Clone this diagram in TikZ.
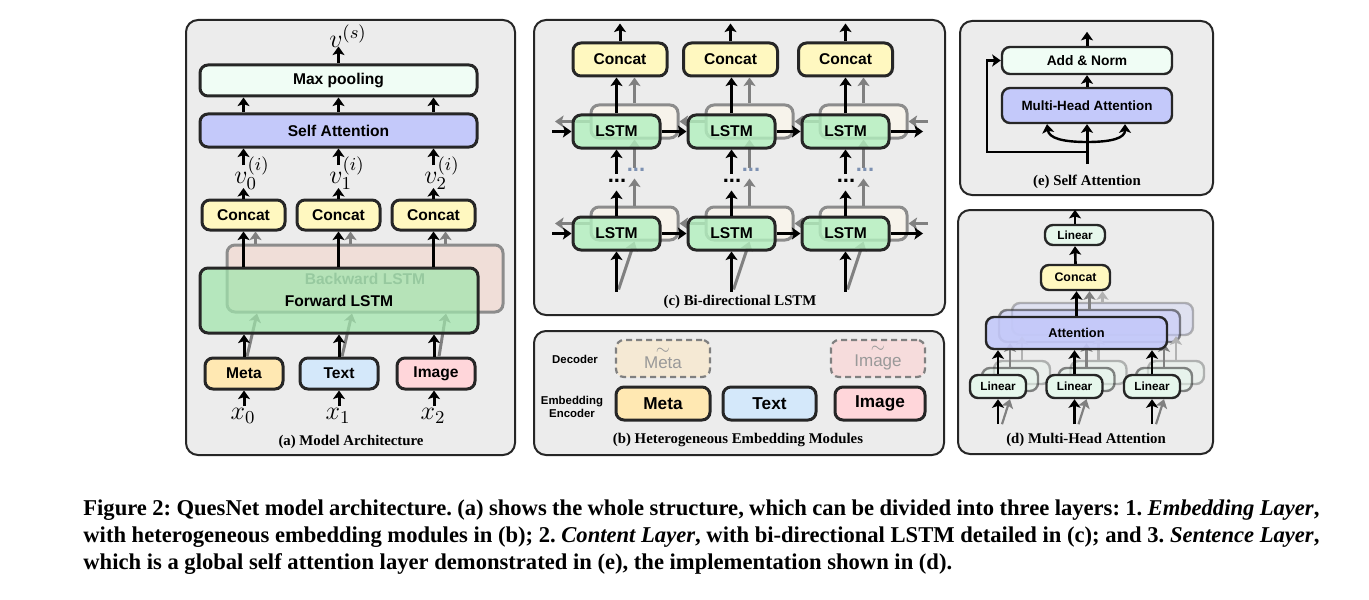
\documentclass[tikz,border=0pt]{standalone}
\usepackage{fix-cm}
\usepackage{fontspec}
\setmainfont{Liberation Serif}
\setsansfont{Liberation Sans}
\usetikzlibrary{arrows.meta}

\definecolor{panelgray}{RGB}{236,236,236}
\definecolor{mintwhite}{RGB}{240,253,245}
\definecolor{attblue}{RGB}{196,201,250}
\definecolor{concaty}{RGB}{255,248,192}
\definecolor{fwgreen}{RGB}{160,230,172}
\definecolor{lstmgreen}{RGB}{178,240,190}
\definecolor{bwpink}{RGB}{240,222,216}
\definecolor{bwcream}{RGB}{247,243,235}
\definecolor{metaor}{RGB}{255,232,178}
\definecolor{textblue}{RGB}{212,232,250}
\definecolor{imgpink}{RGB}{255,214,218}
\definecolor{metadec}{RGB}{245,233,212}
\definecolor{imgdec}{RGB}{246,220,220}
\definecolor{lingreen}{RGB}{230,247,236}
\definecolor{dotblue}{RGB}{125,145,178}

\tikzset{
  panel/.style={draw=black!85, line width=1pt, rounded corners=6pt, fill=panelgray},
  box/.style={draw=black!85, line width=1.5pt, rounded corners=4pt, inner sep=0pt,
    font=\sffamily\bfseries\fontsize{7.8}{8}\selectfont},
  ghost/.style={box, draw=black!45},
  arr/.style={-{Stealth[length=4.3pt,width=6pt,inset=1pt]}, line width=1.5pt},
  garr/.style={arr, color=black!50},
  mathlbl/.style={inner sep=1pt, font=\fontsize{13}{13}\selectfont},
  paneltitle/.style={inner sep=1pt, font=\bfseries\fontsize{7.4}{8}\selectfont},
  sidelbl/.style={inner sep=0pt, align=center, font=\sffamily\bfseries\fontsize{5.7}{6.6}\selectfont},
  capline/.style={anchor=base west, inner sep=0pt, font=\bfseries\fontsize{11.3}{12}\selectfont\frenchspacing},
  dots/.style={inner sep=0pt, font=\sffamily\bfseries\fontsize{11}{11}\selectfont}
}

\begin{document}
\begin{tikzpicture}[x=0.5pt, y=-0.5pt]
  \useasboundingbox (0,0) rectangle (1369,599);

  % ---------- (a) Model Architecture ----------
  \draw[panel] (186,20) rectangle (515,455);
  \node[box, fill=mintwhite, minimum width=138.5pt, minimum height=15.5pt] (maxp) at (338.5,80.5) {Max pooling};
  \node[box, fill=attblue, minimum width=138.5pt, minimum height=16.5pt] (selfatt) at (338.5,130.5) {Self Attention};
  \node[mathlbl] (vs) at (348,36) {$v^{(s)}$};
  \draw[arr] (maxp.north) -- ([yshift=8.5pt]maxp.north);
  \draw[arr] (selfatt.north -| 243.5,0) -- (maxp.south -| 243.5,0);
  \draw[arr] (selfatt.north) -- (maxp.south);
  \draw[arr] (selfatt.north -| 433.5,0) -- (maxp.south -| 433.5,0);

  \node[box, fill=concaty, minimum width=41.5pt, minimum height=15pt] (ac0) at (243.5,215) {Concat};
  \node[box, fill=concaty, minimum width=41.5pt, minimum height=15pt] (ac1) at (338.5,215) {Concat};
  \node[box, fill=concaty, minimum width=41.5pt, minimum height=15pt] (ac2) at (433.5,215) {Concat};

  % v labels between Concat and Self Attention
  \node[mathlbl] (av0) at (252,173) {$v_0^{(i)}$};
  \node[mathlbl] (av1) at (347,173) {$v_1^{(i)}$};
  \node[mathlbl] (av2) at (442,173) {$v_2^{(i)}$};
  \coordinate (av0b) at (243.5,188); \coordinate (av0t) at (243.5,165);
  \coordinate (av1b) at (338.5,188); \coordinate (av1t) at (338.5,165);
  \coordinate (av2b) at (433.5,188); \coordinate (av2t) at (433.5,165);
  \draw[arr] (ac0.north) -- (av0b);
  \draw[arr] (ac1.north) -- (av1b);
  \draw[arr] (ac2.north) -- (av2b);
  \draw[arr] (av0t) -- (selfatt.south -| av0t);
  \draw[arr] (av1t) -- (selfatt.south -| av1t);
  \draw[arr] (av2t) -- (selfatt.south -| av2t);

  % Backward / Forward LSTM
  \node[ghost, fill=bwpink, text=black!50, minimum width=138pt, minimum height=33.5pt] (abw) at (365,278.5) {Backward LSTM};
  \node[box, fill=metaor, minimum width=39pt, minimum height=15.5pt] (am) at (244,373.5) {Meta};
  \node[box, fill=textblue, minimum width=39pt, minimum height=15.5pt] (at) at (339,373.5) {Text};
  \node[box, fill=imgpink, minimum width=39pt, minimum height=15.5pt] (ai) at (436,373.5) {Image};
  \draw[garr] ([xshift=6pt]ac0.south |- abw.north) -- ([xshift=6pt]ac0.south);
  \draw[garr] ([xshift=6pt]ac1.south |- abw.north) -- ([xshift=6pt]ac1.south);
  \draw[garr] ([xshift=6pt]ac2.south |- abw.north) -- ([xshift=6pt]ac2.south);
  \draw[garr] ([xshift=1.5pt]am.north) -- ([xshift=6.5pt]am.north |- abw.south);
  \draw[garr] ([xshift=1.5pt]at.north) -- ([xshift=6.5pt]at.north |- abw.south);
  \draw[garr] ([xshift=1.5pt]ai.north) -- ([xshift=5pt]ai.north |- abw.south);
  \node[box, fill=fwgreen, fill opacity=0.72, text opacity=1, minimum width=139pt, minimum height=32.5pt] (afw) at (339,300.5) {Forward LSTM};
  \draw[arr] (ac0.south |- afw.north) -- (ac0.south);
  \draw[arr] (ac1.south |- afw.north) -- (ac1.south);
  \draw[arr] (ac2.south |- afw.north) -- (ac2.south);
  \draw[arr] (am.north) -- (am.north |- afw.south);
  \draw[arr] (at.north) -- (at.north |- afw.south);
  \draw[arr] (ai.north -| 434,0) -- (afw.south -| 434,0);

  % inputs
  \node[mathlbl, anchor=north] (ax0) at (243,406) {$x_0$};
  \node[mathlbl, anchor=north] (ax1) at (338,406) {$x_1$};
  \node[mathlbl, anchor=north] (ax2) at (433,406) {$x_2$};
  \draw[arr] (am.south |- ax0.north) -- (am.south);
  \draw[arr] (at.south |- ax1.north) -- (at.south);
  \draw[arr] (434,0 |- ax2.north) -- (ai.south -| 434,0);
  \node[paneltitle] (capa) at (351,442) {(a) Model Architecture};

  % ---------- (c) Bi-directional LSTM ----------
  \draw[panel] (534,20) rectangle (945,315);
  % backward cells
  \node[ghost, fill=bwcream, minimum width=43.5pt, minimum height=16.5pt] (bw11) at (634.5,121.5) {};
  \node[ghost, fill=bwcream, minimum width=43.5pt, minimum height=16.5pt] (bw12) at (749.5,121.5) {};
  \node[ghost, fill=bwcream, minimum width=43.5pt, minimum height=16.5pt] (bw13) at (863.5,121.5) {};
  \node[ghost, fill=bwcream, minimum width=43.5pt, minimum height=16.5pt] (bw21) at (634.5,223.5) {};
  \node[ghost, fill=bwcream, minimum width=43.5pt, minimum height=16.5pt] (bw22) at (749.5,223.5) {};
  \node[ghost, fill=bwcream, minimum width=43.5pt, minimum height=16.5pt] (bw23) at (863.5,223.5) {};
  \node[box, fill=concaty, minimum width=47pt, minimum height=16.5pt] (cat1) at (620,59.5) {Concat};
  \node[box, fill=concaty, minimum width=47pt, minimum height=16.5pt] (cat2) at (730.5,59.5) {Concat};
  \node[box, fill=concaty, minimum width=47pt, minimum height=16.5pt] (cat3) at (845.5,59.5) {Concat};
  \coordinate (cbr1) at (928,121.5); \coordinate (cbl1) at (555,121.5);
  \coordinate (cbr2) at (928,223.5); \coordinate (cbl2) at (555,223.5);
  \draw[garr] (cbr1) -- (bw13.east);
  \draw[garr] (bw13.west) -- (bw12.east);
  \draw[garr] (bw12.west) -- (bw11.east);
  \draw[garr] (bw11.west) -- (cbl1);
  \draw[garr] (cbr2) -- (bw23.east);
  \draw[garr] (bw23.west) -- (bw22.east);
  \draw[garr] (bw22.west) -- (bw21.east);
  \draw[garr] (bw21.west) -- (cbl2);
  \draw[garr] (bw11.north) -- (bw11.north |- cat1.south);
  \draw[garr] (bw12.north) -- (bw12.north |- cat2.south);
  \draw[garr] (bw13.north) -- (bw13.north |- cat3.south);
  \draw[garr] ([yshift=-14pt]bw11.south) -- (bw11.south);
  \draw[garr] ([yshift=-14pt]bw12.south) -- (bw12.south);
  \draw[garr] ([yshift=-14pt]bw13.south) -- (bw13.south);
  \draw[garr] (bw21.north) -- ([yshift=13.5pt]bw21.north);
  \draw[garr] (bw22.north) -- ([yshift=13.5pt]bw22.north);
  \draw[garr] (bw23.north) -- ([yshift=13.5pt]bw23.north);
  \draw[garr] ([xshift=-8pt,yshift=-24pt]bw21.south) -- (bw21.south);
  \draw[garr] ([xshift=-8pt,yshift=-24pt]bw22.south) -- (bw22.south);
  \draw[garr] ([xshift=-8pt,yshift=-24pt]bw23.south) -- (bw23.south);
  % forward cells
  \node[box, fill=lstmgreen, fill opacity=0.8, text opacity=1, minimum width=43.5pt, minimum height=16.5pt] (fw11) at (616.5,131.5) {LSTM};
  \node[box, fill=lstmgreen, fill opacity=0.8, text opacity=1, minimum width=43.5pt, minimum height=16.5pt] (fw12) at (731.5,131.5) {LSTM};
  \node[box, fill=lstmgreen, fill opacity=0.8, text opacity=1, minimum width=43.5pt, minimum height=16.5pt] (fw13) at (845.5,131.5) {LSTM};
  \node[box, fill=lstmgreen, fill opacity=0.8, text opacity=1, minimum width=43.5pt, minimum height=16.5pt] (fw21) at (616.5,233.5) {LSTM};
  \node[box, fill=lstmgreen, fill opacity=0.8, text opacity=1, minimum width=43.5pt, minimum height=16.5pt] (fw22) at (731.5,233.5) {LSTM};
  \node[box, fill=lstmgreen, fill opacity=0.8, text opacity=1, minimum width=43.5pt, minimum height=16.5pt] (fw23) at (845.5,233.5) {LSTM};
  \coordinate (cfl1) at (552,131.5); \coordinate (cfr1) at (923,131.5);
  \coordinate (cfl2) at (552,233.5); \coordinate (cfr2) at (923,233.5);
  \draw[arr] (cfl1) -- (fw11.west);
  \draw[arr] (fw11.east) -- (fw12.west);
  \draw[arr] (fw12.east) -- (fw13.west);
  \draw[arr] (fw13.east) -- (cfr1);
  \draw[arr] (cfl2) -- (fw21.west);
  \draw[arr] (fw21.east) -- (fw22.west);
  \draw[arr] (fw22.east) -- (fw23.west);
  \draw[arr] (fw23.east) -- (cfr2);
  \draw[arr] (fw11.north) -- (fw11.north |- cat1.south);
  \draw[arr] (fw12.north) -- (fw12.north |- cat2.south);
  \draw[arr] (fw13.north) -- (fw13.north |- cat3.south);
  \draw[arr] (cat1.north) -- ([yshift=9pt]cat1.north);
  \draw[arr] (cat2.north) -- ([yshift=9pt]cat2.north);
  \draw[arr] (cat3.north) -- ([yshift=9pt]cat3.north);
  \draw[arr] ([yshift=-12pt]fw11.south) -- (fw11.south);
  \draw[arr] ([yshift=-12pt]fw12.south) -- (fw12.south);
  \draw[arr] ([yshift=-12pt]fw13.south) -- (fw13.south);
  \draw[arr] (fw21.north) -- ([yshift=12.5pt]fw21.north);
  \draw[arr] (fw22.north) -- ([yshift=12.5pt]fw22.north);
  \draw[arr] (fw23.north) -- ([yshift=12.5pt]fw23.north);
  \draw[arr] ([yshift=-20pt]fw21.south) -- (fw21.south);
  \draw[arr] ([yshift=-20pt]fw22.south) -- (fw22.south);
  \draw[arr] ([yshift=-20pt]fw23.south) -- (fw23.south);
  \node[dots] (cd1) at (617,181) {...};
  \node[dots] (cd2) at (732,181) {...};
  \node[dots] (cd3) at (846,181) {...};
  \node[dots, text=dotblue] (cg1) at (636,170) {...};
  \node[dots, text=dotblue] (cg2) at (751,170) {...};
  \node[dots, text=dotblue] (cg3) at (865,170) {...};
  \node[paneltitle] (capc) at (740,302) {(c) Bi-directional LSTM};

  % ---------- (b) Heterogeneous Embedding Modules ----------
  \draw[panel] (534,331) rectangle (944,455);
  \node[sidelbl] (bdec) at (575,359) {Decoder};
  \node[sidelbl] (benc) at (572,407) {Embedding\\Encoder};
  \node[box, dash pattern=on 3pt off 2pt, line width=1.1pt, draw=black!50, fill=metadec, text=black!40, align=center,
    font=\sffamily\fontsize{8.5}{7}\selectfont, minimum width=47pt, minimum height=18.5pt] (bdmeta) at (663,358.5) {$\sim$\\Meta};
  \node[box, dash pattern=on 3pt off 2pt, line width=1.1pt, draw=black!50, fill=imgdec, text=black!40, align=center,
    font=\sffamily\fontsize{8.5}{7}\selectfont, minimum width=47pt, minimum height=18.5pt] (bdimg) at (878,358.5) {$\sim$\\Image};
  \node[box, fill=metaor, font=\sffamily\bfseries\fontsize{8.6}{9}\selectfont, minimum width=47pt, minimum height=16.5pt] (bmeta) at (663,403.5) {Meta};
  \node[box, fill=textblue, font=\sffamily\bfseries\fontsize{8.6}{9}\selectfont, minimum width=46.5pt, minimum height=16.5pt] (btext) at (769.5,403.5) {Text};
  \node[box, fill=imgpink, font=\sffamily\bfseries\fontsize{8.6}{9}\selectfont, minimum width=45pt, minimum height=16.5pt] (bimg) at (880,403.5) {Image};
  \node[paneltitle] (capb) at (738,440) {(b) Heterogeneous Embedding Modules};

  % ---------- (e) Self Attention ----------
  \draw[panel] (960,21) rectangle (1213,195);
  \node[box, line width=1.2pt, fill=mintwhite, font=\sffamily\bfseries\fontsize{6.9}{7}\selectfont, minimum width=85pt, minimum height=13.5pt] (addn) at (1087,60.5) {Add \& Norm};
  \node[box, line width=1.2pt, fill=attblue, font=\sffamily\bfseries\fontsize{6.7}{7}\selectfont, minimum width=85pt, minimum height=17.5pt] (mha) at (1087,105.5) {Multi-Head Attention};
  \coordinate (ein) at (1087,164);
  \coordinate (esplit) at (1087,152);
  \coordinate (ecurve) at (1087,142);
  \draw[arr] (mha.north) -- (addn.south);
  \draw[arr] (addn.north) -- ([yshift=7pt]addn.north);
  \draw[arr] (ein) -- (mha.south);
  \draw[arr, line width=1.2pt] (ecurve) .. controls (1062,142) and (1049,138) .. ([xshift=-20pt]mha.south);
  \draw[arr, line width=1.2pt] (ecurve) .. controls (1112,142) and (1125,138) .. ([xshift=19pt]mha.south);
  \draw[arr, line width=1.3pt] (esplit) -| ([xshift=-7pt]addn.west) -- (addn.west);
  \node[paneltitle] (cape) at (1087,182) {(e) Self Attention};

  % ---------- (d) Multi-Head Attention ----------
  \draw[panel] (958,210) rectangle (1213,454);
  \begin{scope}[opacity=0.3]
    \node[box, line width=1.2pt, fill=attblue, minimum width=90.5pt, minimum height=16pt] (datt3) at (1102.5,319) {};
    \node[box, line width=1.2pt, fill=lingreen, minimum width=28pt, minimum height=11.5pt] (dl1c) at (1022,372.5) {};
    \node[box, line width=1.2pt, fill=lingreen, minimum width=28pt, minimum height=11.5pt] (dl2c) at (1098.5,372.5) {};
    \node[box, line width=1.2pt, fill=lingreen, minimum width=28pt, minimum height=11.5pt] (dl3c) at (1176,372.5) {};
  \end{scope}
  \begin{scope}[opacity=0.55]
    \node[box, line width=1.2pt, fill=attblue, minimum width=90.5pt, minimum height=16pt] (datt2) at (1089.5,326) {};
    \node[box, line width=1.2pt, fill=lingreen, minimum width=28pt, minimum height=11.5pt] (dl1b) at (1010,379.5) {};
    \node[box, line width=1.2pt, fill=lingreen, minimum width=28pt, minimum height=11.5pt] (dl2b) at (1086.5,379.5) {};
    \node[box, line width=1.2pt, fill=lingreen, minimum width=28pt, minimum height=11.5pt] (dl3b) at (1164,379.5) {};
  \end{scope}
  \node[box, line width=1.2pt, fill=concaty, font=\sffamily\bfseries\fontsize{6.2}{7}\selectfont, minimum width=34.5pt, minimum height=12.5pt] (dcat) at (1075.5,277.5) {Concat};
  \node[box, line width=1.2pt, fill=lingreen, font=\sffamily\bfseries\fontsize{5.9}{7}\selectfont, minimum width=30pt, minimum height=10pt] (dlin) at (1075,235) {Linear};
  \draw[garr, line width=1.2pt, color=black!30] (datt3.north) -- (datt3.north |- dcat.south);
  \draw[garr, line width=1.2pt, color=black!30] (dl1c.north) -- (dl1c.north |- datt3.south);
  \draw[garr, line width=1.2pt, color=black!30] (dl2c.north) -- (dl2c.north |- datt3.south);
  \draw[garr, line width=1.2pt, color=black!30] (dl3c.north) -- (dl3c.north |- datt3.south);
  \draw[garr, line width=1.2pt] (datt2.north) -- (datt2.north |- dcat.south);
  \draw[garr, line width=1.2pt] (dl1b.north) -- (dl1b.north |- datt2.south);
  \draw[garr, line width=1.2pt] (dl2b.north) -- (dl2b.north |- datt2.south);
  \draw[garr, line width=1.2pt] (dl3b.north) -- (dl3b.north |- datt2.south);
  \node[box, line width=1.2pt, fill=attblue, fill opacity=0.9, text opacity=1, font=\sffamily\bfseries\fontsize{6.4}{7}\selectfont, minimum width=90.5pt, minimum height=16pt] (datt) at (1076.5,333) {Attention};
  \node[box, line width=1.2pt, fill=lingreen, font=\sffamily\bfseries\fontsize{5.9}{7}\selectfont, minimum width=28pt, minimum height=11.5pt] (dl1) at (998,386.5) {Linear};
  \node[box, line width=1.2pt, fill=lingreen, font=\sffamily\bfseries\fontsize{5.9}{7}\selectfont, minimum width=28pt, minimum height=11.5pt] (dl2) at (1074.5,386.5) {Linear};
  \node[box, line width=1.2pt, fill=lingreen, font=\sffamily\bfseries\fontsize{5.9}{7}\selectfont, minimum width=28pt, minimum height=11.5pt] (dl3) at (1152,386.5) {Linear};
  \draw[garr, line width=1.1pt] ([xshift=2pt,yshift=-12.5pt]dl1.south) -- ([xshift=6pt]dl1.south);
  \draw[garr, line width=1.1pt] ([xshift=2pt,yshift=-12.5pt]dl2.south) -- ([xshift=6pt]dl2.south);
  \draw[garr, line width=1.1pt] ([xshift=2pt,yshift=-12.5pt]dl3.south) -- ([xshift=6pt]dl3.south);
  \draw[arr, line width=1.3pt] ([yshift=-12.5pt]dl1.south) -- (dl1.south);
  \draw[arr, line width=1.3pt] ([yshift=-12.5pt]dl2.south) -- (dl2.south);
  \draw[arr, line width=1.3pt] ([yshift=-12.5pt]dl3.south) -- (dl3.south);
  \draw[arr, line width=1.3pt] (dl1.north) -- (dl1.north |- datt.south);
  \draw[arr, line width=1.3pt] (dl2.north) -- (dl2.north |- datt.south);
  \draw[arr, line width=1.3pt] (dl3.north) -- (dl3.north |- datt.south);
  \draw[arr, line width=1.3pt] (datt.north) -- (datt.north |- dcat.south);
  \draw[arr, line width=1.3pt] (dcat.north) -- (dlin.south);
  \draw[arr, line width=1.3pt] (dlin.north) -- ([yshift=7pt]dlin.north);
  \node[paneltitle] (capd) at (1086,440) {(d) Multi-Head Attention};

  % ---------- figure caption ----------
  \node[capline] (cap1) at (83,515) {\makebox[618pt][s]{Figure 2: QuesNet model architecture. (a) shows the whole structure, which can be divided into three layers: 1. \textit{Embedding Layer},}};
  \node[capline] (cap2) at (83,542) {\makebox[618pt][s]{with heterogeneous embedding modules in (b); 2. \textit{Content Layer}, with bi-directional LSTM detailed in (c); and 3. \textit{Sentence Layer},}};
  \node[capline] (cap3) at (83,569) {which is a global self attention layer demonstrated in (e), the implementation shown in (d).};
\end{tikzpicture}
\end{document}
